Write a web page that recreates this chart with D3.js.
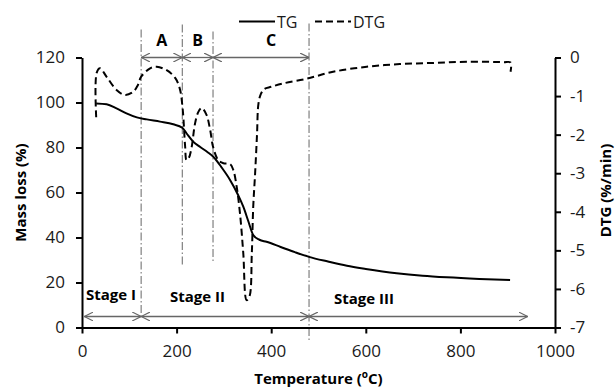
<!DOCTYPE html>
<html>
<head>
<meta charset="utf-8">
<script src="https://cdn.jsdelivr.net/npm/d3@7"></script>
<style>
  body { margin: 0; background: #fff; }
  svg { font-family: "Open Sans", sans-serif; }
</style>
</head>
<body>
<div id="chart"></div>
<script>
// TG curve (mass loss, %)
const tgTemp = [30, 52, 73, 94, 116, 137, 165, 193, 212, 222, 235, 250, 265, 278, 295, 313, 330, 341, 352, 362, 375, 390, 420, 450, 480, 520, 560, 600, 665, 720, 771, 840, 905];
const tgMass = [99.6, 99.2, 97.4, 95.2, 93.4, 92.5, 91.5, 90.3, 88.8, 86.0, 82.6, 80.2, 78.0, 75.8, 71.2, 65.6, 58.9, 53.7, 47.0, 41.1, 39.0, 38.1, 35.8, 33.5, 31.4, 29.3, 27.4, 26.0, 24.1, 23.0, 22.3, 21.6, 21.1];

// DTG curve (%/min)
const dtgTemp = [30, 31, 38, 52, 73, 91, 108, 118, 125, 144, 158, 179, 197, 207, 213, 218, 221, 226, 232, 239, 246, 253, 263, 271, 277, 288, 299, 313, 320, 327, 334, 341, 348, 354, 359, 362, 366, 370, 373, 378, 385, 400, 426, 475, 531, 602, 672, 743, 813, 891, 906, 906];
const dtgRate = [-1.55, -0.4, -0.28, -0.5, -0.84, -0.97, -0.89, -0.72, -0.5, -0.28, -0.24, -0.33, -0.53, -0.82, -1.36, -2.3, -2.66, -2.6, -2.31, -1.71, -1.41, -1.31, -1.48, -1.88, -2.31, -2.66, -2.74, -2.76, -2.92, -3.35, -4.04, -5.08, -6.29, -6.2, -5.08, -3.87, -3.0, -2.0, -1.2, -0.95, -0.82, -0.76, -0.67, -0.55, -0.37, -0.24, -0.17, -0.14, -0.11, -0.12, -0.13, -0.37];

const xTicks = [0, 200, 400, 600, 800, 1000];
const yLeftTicks = [0, 20, 40, 60, 80, 100, 120];
const yRightTicks = [0, -1, -2, -3, -4, -5, -6, -7];

const regionBounds = [125, 212, 277, 480];
const regionLabels = ["A", "B", "C"];
const stageBounds = [5, 125, 480, 942];
const stageLabels = ["Stage I", "Stage II", "Stage III"];
const seriesNames = ["TG", "DTG"];

const width = 616, height = 389;
const margin = { top: 57.5, right: 61, bottom: 61.5, left: 82 };
const innerW = width - margin.left - margin.right;
const innerH = height - margin.top - margin.bottom;

const svg = d3.select("#chart").append("svg")
  .attr("width", width)
  .attr("height", height);

const defs = svg.append("defs");
defs.append("marker")
  .attr("id", "arrow")
  .attr("viewBox", "0 0 10 10")
  .attr("refX", 10).attr("refY", 5)
  .attr("markerWidth", 9).attr("markerHeight", 9)
  .attr("markerUnits", "userSpaceOnUse")
  .attr("orient", "auto-start-reverse")
  .append("path")
  .attr("d", "M0,0 L10,5 L0,10")
  .attr("fill", "none")
  .attr("stroke", "#666")
  .attr("stroke-width", 1.3);

const g = svg.append("g").attr("transform", `translate(${margin.left},${margin.top})`);

const x = d3.scaleLinear().domain([0, 1000]).range([0, innerW]);
const yL = d3.scaleLinear().domain([0, 120]).range([innerH, 0]);
const yR = d3.scaleLinear().domain([-7, 0]).range([innerH, 0]);

// vertical guide lines (dash-dot), top/bottom in pixels relative to plot
const guideExtent = [[-28, 262], [-33, 209], [-26, 204], [-34, 285]];
g.selectAll(".guide")
  .data(regionBounds)
  .join("line")
  .attr("class", "guide")
  .attr("x1", d => x(d)).attr("x2", d => x(d))
  .attr("y1", (d, i) => guideExtent[i][0])
  .attr("y2", (d, i) => guideExtent[i][1])
  .attr("stroke", "#666")
  .attr("stroke-width", 1)
  .attr("stroke-dasharray", "8,2.5,1.5,2.5");

// axes
const axisStyle = sel => {
  sel.selectAll("path, line").attr("stroke", "#000").attr("stroke-width", 2);
  sel.selectAll("text").attr("fill", "#1a1a1a").style("font-size", "17px").style("font-family", "'Open Sans', sans-serif");
};

g.append("g")
  .attr("transform", `translate(0,${innerH})`)
  .call(d3.axisBottom(x).tickValues(xTicks).tickSize(6).tickSizeOuter(0).tickPadding(11).tickFormat(d3.format("d")))
  .call(axisStyle);

g.append("g")
  .call(d3.axisLeft(yL).tickValues(yLeftTicks).tickSize(6).tickSizeOuter(0).tickPadding(11))
  .call(axisStyle);

g.append("g")
  .attr("transform", `translate(${innerW},0)`)
  .call(d3.axisRight(yR).tickValues(yRightTicks).tickSize(6).tickSizeOuter(0).tickPadding(9).tickFormat(d => String(d)))
  .call(axisStyle);

// TG line
const tgData = tgTemp.map((t, i) => [t, tgMass[i]]);
g.append("path")
  .datum(tgData)
  .attr("fill", "none")
  .attr("stroke", "#000")
  .attr("stroke-width", 2)
  .attr("d", d3.line().x(d => x(d[0])).y(d => yL(d[1])).curve(d3.curveMonotoneX));

// DTG line
const dtgData = dtgTemp.map((t, i) => [t, dtgRate[i]]);
g.append("path")
  .datum(dtgData)
  .attr("fill", "none")
  .attr("stroke", "#000")
  .attr("stroke-width", 2)
  .attr("stroke-dasharray", "7,4")
  .attr("d", d3.line().x(d => x(d[0])).y(d => yR(d[1])).curve(d3.curveCatmullRom.alpha(0.5)));

// region arrows A, B, C at top
const regionPairs = d3.pairs(regionBounds);
g.selectAll(".rarrow")
  .data(regionPairs)
  .join("line")
  .attr("x1", d => x(d[0])).attr("x2", d => x(d[1]))
  .attr("y1", 0).attr("y2", 0)
  .attr("stroke", "#666").attr("stroke-width", 1.3)
  .attr("marker-start", "url(#arrow)")
  .attr("marker-end", "url(#arrow)");

g.selectAll(".rlabel")
  .data(regionPairs)
  .join("text")
  .attr("x", (d, i) => x((d[0] + d[1]) / 2) + (i === 2 ? 10 : 0))
  .attr("y", -12)
  .attr("text-anchor", "middle")
  .style("font-size", "16px")
  .style("font-weight", "bold")
  .text((d, i) => regionLabels[i]);

// stage arrows at bottom
const stagePairs = d3.pairs(stageBounds);
g.selectAll(".sarrow")
  .data(stagePairs)
  .join("line")
  .attr("x1", d => x(d[0])).attr("x2", d => x(d[1]))
  .attr("y1", innerH - 11).attr("y2", innerH - 11)
  .attr("stroke", "#666").attr("stroke-width", 1.3)
  .attr("marker-start", "url(#arrow)")
  .attr("marker-end", "url(#arrow)");

const stageTextX = [4, 88, 252];
g.selectAll(".slabel")
  .data(stageLabels)
  .join("text")
  .attr("x", (d, i) => stageTextX[i])
  .attr("y", (d, i) => innerH - 28 + i * 2)
  .style("font-size", "15px")
  .style("font-weight", "bold")
  .text(d => d);

// axis titles
svg.append("text")
  .attr("transform", `translate(26,${margin.top + innerH / 2}) rotate(-90)`)
  .attr("text-anchor", "middle")
  .style("font-size", "15px")
  .style("font-weight", "bold")
  .text("Mass loss (%)");

svg.append("text")
  .attr("transform", `translate(611,${margin.top + innerH / 2 - 2}) rotate(-90)`)
  .attr("text-anchor", "middle")
  .style("font-size", "15px")
  .style("font-weight", "bold")
  .text("DTG (%/min)");

const xt = svg.append("text")
  .attr("x", margin.left + innerW / 2)
  .attr("y", 384)
  .attr("text-anchor", "middle")
  .style("font-size", "15px")
  .style("font-weight", "bold");
xt.append("tspan").text("Temperature (");
xt.append("tspan").attr("dy", -6).style("font-size", "10px").text("o");
xt.append("tspan").attr("dy", 6).text("C)");

// legend
const legend = svg.append("g").attr("transform", "translate(239,21.5)");
const legendItems = legend.selectAll("g")
  .data(seriesNames)
  .join("g")
  .attr("transform", (d, i) => `translate(${i * 76},0)`);
legendItems.append("line")
  .attr("x1", 0).attr("x2", 36)
  .attr("stroke", "#000").attr("stroke-width", 2)
  .attr("stroke-dasharray", (d, i) => i === 1 ? "7,4" : null);
legendItems.append("text")
  .attr("x", 38).attr("y", 6)
  .style("font-size", "16px")
  .attr("fill", "#1a1a1a")
  .text(d => d);
</script>
</body>
</html>
